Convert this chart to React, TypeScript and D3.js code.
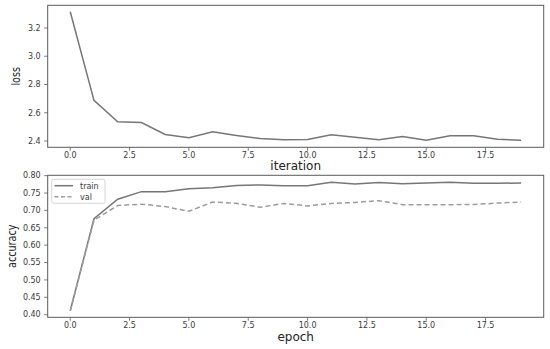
import React from "react";
import * as d3 from "d3";

const iterations = d3.range(20);
const lossValues = [3.315, 2.688, 2.536, 2.531, 2.446, 2.423, 2.465, 2.44, 2.418, 2.41, 2.411, 2.444, 2.427, 2.409, 2.432, 2.406, 2.437, 2.437, 2.413, 2.406];
const trainAcc = [0.4115, 0.676, 0.732, 0.754, 0.754, 0.762, 0.765, 0.772, 0.773, 0.771, 0.771, 0.781, 0.776, 0.7805, 0.777, 0.779, 0.781, 0.778, 0.778, 0.779];
const valAcc = [0.4115, 0.672, 0.714, 0.718, 0.711, 0.6975, 0.724, 0.7205, 0.709, 0.72, 0.713, 0.72, 0.723, 0.728, 0.7165, 0.7165, 0.7165, 0.717, 0.721, 0.724];
const xTicks = [0, 2.5, 5, 7.5, 10, 12.5, 15, 17.5];
const lossTicks = [2.4, 2.6, 2.8, 3.0, 3.2];
const accTicks = [0.4, 0.45, 0.5, 0.55, 0.6, 0.65, 0.7, 0.75, 0.8];

const FONT = "DejaVu Sans, sans-serif";
const LINE = "#767676";
const LINE2 = "#9c9c9c";
const FRAME = "#5a5a5a";
const TXT = "#3a3a3a";

const left = 47.7, right = 543.7;
const x = d3.scaleLinear().domain([-0.95, 19.95]).range([left, right]);

function Panel({ top, bottom, yDomain, yTicks, fmt, series, xlabel, ylabel, xlabelY, legend }: any) {
  const y = d3.scaleLinear().domain(yDomain).range([bottom, top]);
  const line = d3.line<number>().x((_, i) => x(iterations[i])).y((d) => y(d));
  return (
    <g>
      {series.map((s: any, i: number) => (
        <path key={i} d={line(s.values) || ""} fill="none" stroke={s.dash ? LINE2 : LINE} strokeWidth={1.5}
          strokeDasharray={s.dash ? "5,3" : undefined} />
      ))}
      <rect x={left} y={top} width={right - left} height={bottom - top} fill="none" stroke={FRAME} strokeWidth={1} />
      {xTicks.map((t) => (
        <g key={t}>
          <line x1={x(t)} x2={x(t)} y1={bottom} y2={bottom + 3.5} stroke={FRAME} strokeWidth={0.8} />
          <text x={x(t)} y={bottom + 11} fontSize={8} fontFamily={FONT} fill={TXT} textAnchor="middle">{t.toFixed(1)}</text>
        </g>
      ))}
      {yTicks.map((t: number) => (
        <g key={t}>
          <line x1={left - 3.5} x2={left} y1={y(t)} y2={y(t)} stroke={FRAME} strokeWidth={0.8} />
          <text x={left - 7} y={y(t)} dy="0.35em" fontSize={8} fontFamily={FONT} fill={TXT} textAnchor="end">{fmt(t)}</text>
        </g>
      ))}
      <text x={(left + right) / 2} y={xlabelY} fontSize={12} fontFamily={FONT} fill="#222" textAnchor="middle">{xlabel}</text>
      <text transform={`translate(${ylabel.x},${(top + bottom) / 2}) rotate(-90) scale(0.8,1)`} fontSize={12} fontFamily={FONT} fill="#222" textAnchor="middle" dy="0.35em">{ylabel.text}</text>
      {legend && (
        <g>
          <rect x={51.7} y={179.3} width={53.3} height={24} rx={2} fill="white" fillOpacity={0.8} stroke="#ccc" strokeWidth={0.8} />
          {legend.map((l: any, i: number) => (
            <g key={i}>
              <line x1={54.5} x2={73} y1={185.7 + i * 11} y2={185.7 + i * 11} stroke={l.dash ? LINE2 : LINE} strokeWidth={1.5} strokeDasharray={l.dash ? "4,2.5" : undefined} />
              <text x={80} y={185.7 + i * 11} dy="0.35em" fontSize={8} fontFamily={FONT} fill={TXT}>{l.text}</text>
            </g>
          ))}
        </g>
      )}
    </g>
  );
}

export default function App() {
  return (
    <svg width={550} height={349} style={{ position: "absolute", left: 0, top: 0, background: "white" }}>
      <rect width={550} height={349} fill="white" />
      <Panel top={5.3} bottom={147.3} yDomain={[2.3557, 3.3604]} yTicks={lossTicks} fmt={(t: number) => t.toFixed(1)}
        series={[{ values: lossValues }]} xlabel="iteration" xlabelY={170} ylabel={{ x: 16, text: "loss" }} />
      <Panel top={175.3} bottom={317.3} yDomain={[0.3925, 0.801]} yTicks={accTicks} fmt={(t: number) => t.toFixed(2)}
        series={[{ values: trainAcc }, { values: valAcc, dash: true }]} xlabel="epoch" xlabelY={341}
        ylabel={{ x: 12, text: "accuracy" }} legend={[{ text: "train" }, { text: "val", dash: true }]} />
    </svg>
  );
}
